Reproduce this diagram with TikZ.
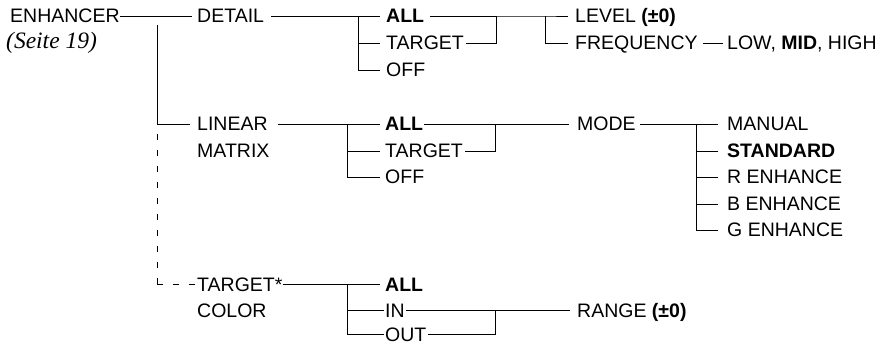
\documentclass[tikz,border=0pt]{standalone}
\usepackage{fontspec}
\setmainfont{Liberation Sans}
\newfontfamily\seitefont{Liberation Serif}
\usetikzlibrary{calc}
\begin{document}
\begin{tikzpicture}[x=1pt,y=-1pt,
  lbl/.style={anchor=west,inner sep=0pt,text height=14pt,text depth=0pt,font=\fontsize{19.5}{22}\selectfont},
  wire/.style={line width=0.9pt},
  dashwire/.style={line width=0.9pt,dash pattern=on 6pt off 10pt}]
\useasboundingbox (0,0) rectangle (882,344);
% labels
\node[lbl] (enh) at (10,16) {ENHANCER};
\node[anchor=west,inner sep=0pt,font=\seitefont\itshape\fontsize{23.5}{25}\selectfont] (seite) at (6,43) {(Seite 19)};
\node[lbl] (detail) at (197,16) {DETAIL};
\node[lbl] (dall) at (386,16) {\textbf{ALL}};
\node[lbl] (dtarget) at (386,43) {TARGET};
\node[lbl] (doff) at (386,70) {OFF};
\node[lbl] (level) at (575,16) {LEVEL \textbf{(±0)}};
\node[lbl] (freq) at (575,43) {FREQUENCY};
\node[lbl] (low) at (727,43) {LOW, \textbf{MID}, HIGH};
\node[lbl] (linear) at (197,124) {LINEAR};
\node[lbl] (matrix) at (197,151) {MATRIX};
\node[lbl] (lall) at (385,124) {\textbf{ALL}};
\node[lbl] (ltarget) at (385,151) {TARGET};
\node[lbl] (loff) at (385,177) {OFF};
\node[lbl] (mode) at (577,124) {MODE};
\node[lbl] (manual) at (727,124) {MANUAL};
\node[lbl] (standard) at (727,151) {\textbf{STANDARD}};
\node[lbl] (renh) at (727,177) {R ENHANCE};
\node[lbl] (benh) at (727,204) {B ENHANCE};
\node[lbl] (genh) at (727,230) {G ENHANCE};
\node[lbl] (tc) at (197,284) {TARGET*};
\node[lbl] (color) at (197,310) {COLOR};
\node[lbl] (tall) at (385,284) {\textbf{ALL}};
\node[lbl] (tin) at (385,310) {IN};
\node[lbl] (tout) at (385,334) {OUT};
\node[lbl] (range) at (577,310) {RANGE \textbf{(±0)}};
% junction coordinates
\coordinate (m0) at (157,25);
\coordinate (m1) at (157,124);
\coordinate (m2) at (157,284);
\coordinate (d1) at (358,16);
\coordinate (d2) at (496,16);
\coordinate (d3) at (545,16);
\coordinate (l1) at (347,124);
\coordinate (l2) at (495,124);
\coordinate (l3) at (696,124);
\coordinate (t1) at (347,284);
\coordinate (t2) at (495,310);
% ENHANCER
\draw[wire] (enh.east) -- ($(detail.west)+(-5,0)$);
\draw[wire] (m0) -- (m1) -- ($(linear.west)+(-7,0)$);
\draw[dashwire] (m2) -- (m1);
\draw[dashwire] (m2) -- ($(tc.west)+(-1,0)$);
% DETAIL
\draw[wire] ($(detail.east)+(7,0)$) -- ($(dall.west)+(-6,0)$);
\draw[wire] (d1) |- ($(doff.west)+(-6,0)$);
\draw[wire] (d1 |- dtarget) -- ($(dtarget.west)+(-6,0)$);
\draw[wire] ($(dall.east)+(6,0)$) -- (d2) |- ($(dtarget.east)+(2,0)$);
\draw[wire] (d2) -- (d3) -- ($(level.west)+(-7,0)$);
\draw[wire] (d3) |- ($(freq.west)+(-7,0)$);
\draw[wire] ($(freq.east)+(5,0)$) -- ($(low.west)+(-4,0)$);
% LINEAR MATRIX
\draw[wire] ($(linear.east)+(10,0)$) -- ($(lall.west)+(-5,0)$);
\draw[wire] (l1) |- ($(loff.west)+(-5,0)$);
\draw[wire] (l1 |- ltarget) -- ($(ltarget.west)+(-5,0)$);
\draw[wire] ($(lall.east)+(1,0)$) -- (l2) |- ($(ltarget.east)+(2,0)$);
\draw[wire] (l2) -- ($(mode.west)+(-8,0)$);
\draw[wire] ($(mode.east)+(4,0)$) -- ($(manual.west)+(-9,0)$);
\draw[wire] (l3) |- ($(genh.west)+(-9,0)$);
\draw[wire] (l3 |- standard) -- ($(standard.west)+(-9,0)$);
\draw[wire] (l3 |- renh) -- ($(renh.west)+(-9,0)$);
\draw[wire] (l3 |- benh) -- ($(benh.west)+(-9,0)$);
% TARGET COLOR
\draw[wire] (tc.east) -- ($(tall.west)+(-5,0)$);
\draw[wire] (t1) |- ($(tout.west)+(-1,0)$);
\draw[wire] (t1 |- tin) -- ($(tin.west)+(-1,0)$);
\draw[wire] ($(tin.east)+(1,0)$) -- (t2) |- ($(tout.east)+(1,0)$);
\draw[wire] (t2) -- ($(range.west)+(-7,0)$);
\end{tikzpicture}
\end{document}
